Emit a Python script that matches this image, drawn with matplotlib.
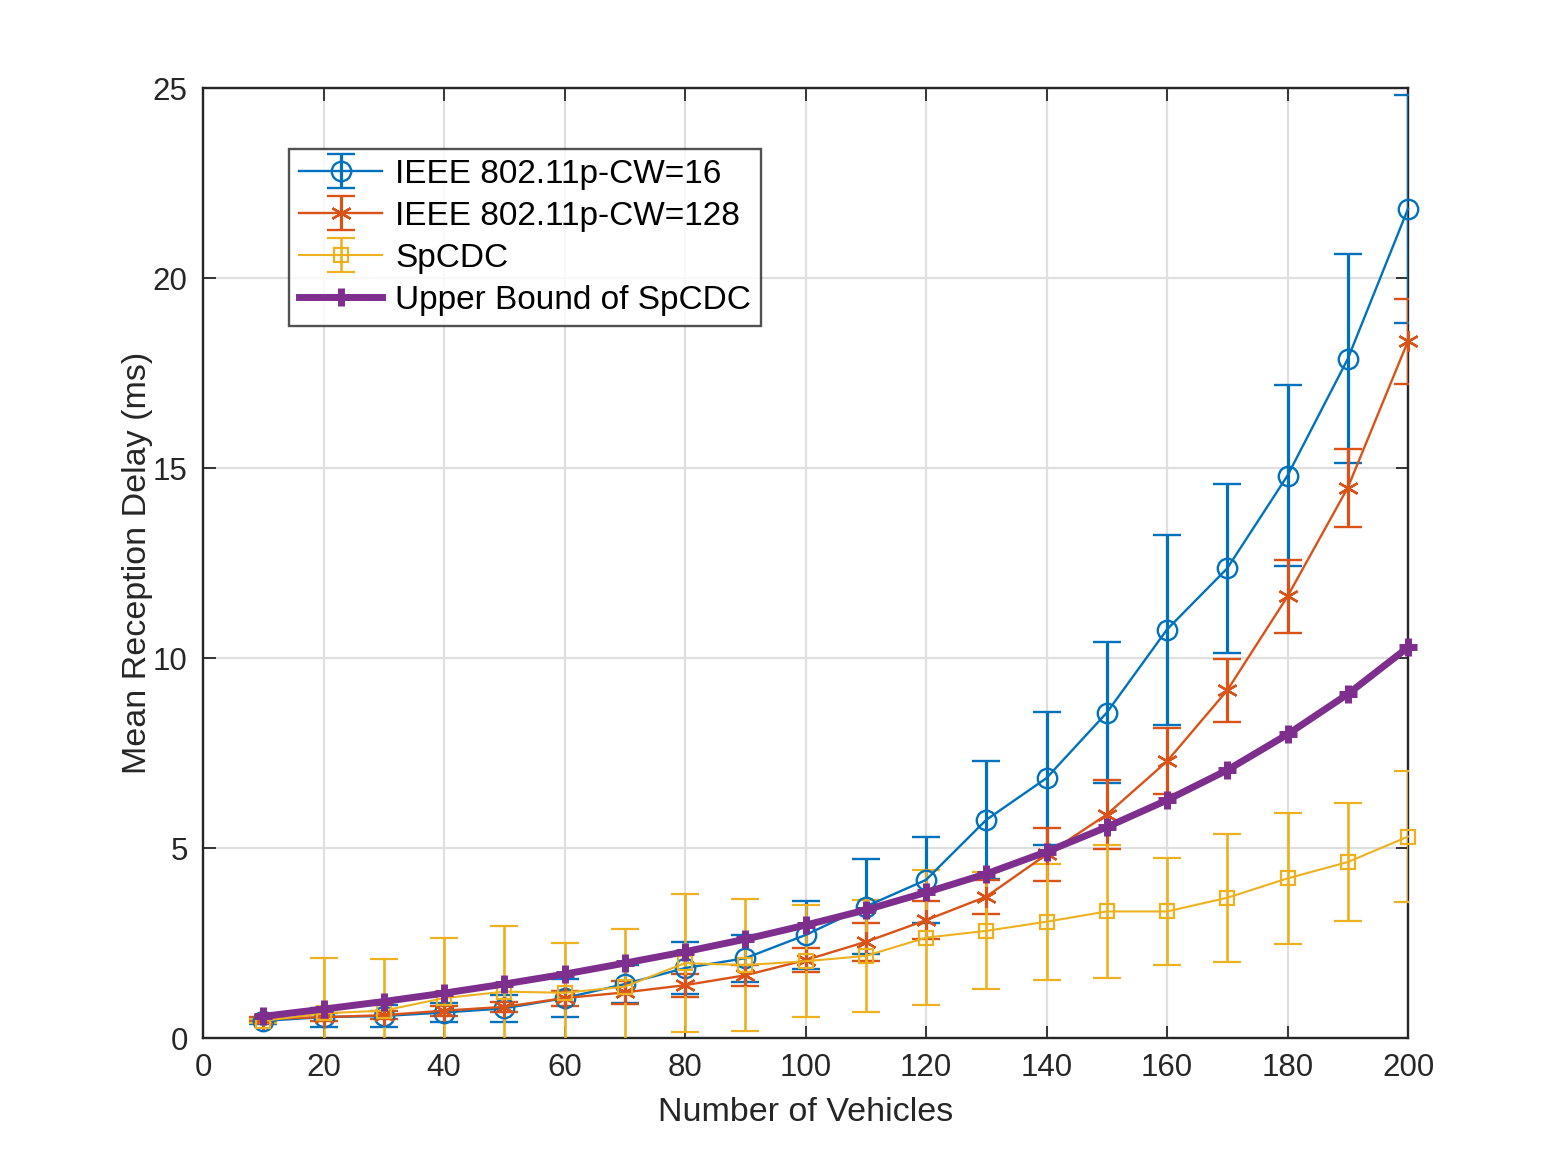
import numpy as np
import matplotlib
matplotlib.use('Agg')
import matplotlib.pyplot as plt

# Number of vehicles
vehicles = [10, 20, 30, 40, 50, 60, 70, 80, 90, 100,
            110, 120, 130, 140, 150, 160, 170, 180, 190, 200]

# IEEE 802.11p, CW=16
cw16_mean = [0.45, 0.55, 0.58, 0.67, 0.78, 1.05, 1.42, 1.84, 2.1, 2.71,
             3.46, 4.16, 5.74, 6.84, 8.56, 10.75, 12.36, 14.8, 17.87, 21.82]
cw16_err = [0.08, 0.25, 0.3, 0.26, 0.35, 0.5, 0.5, 0.68, 0.62, 0.9,
            1.25, 1.13, 1.56, 1.75, 1.85, 2.5, 2.22, 2.38, 2.75, 3.0]

# IEEE 802.11p, CW=128
cw128_mean = [0.5, 0.55, 0.6, 0.72, 0.82, 1.05, 1.2, 1.39, 1.65, 2.05,
              2.53, 3.1, 3.72, 4.83, 5.88, 7.28, 9.15, 11.62, 14.48, 18.34]
cw128_err = [0.05, 0.1, 0.1, 0.13, 0.14, 0.2, 0.3, 0.3, 0.27, 0.32,
             0.5, 0.5, 0.45, 0.7, 0.9, 0.87, 0.83, 0.96, 1.03, 1.12]

# SpCDC
spcdc_mean = [0.45, 0.65, 0.72, 1.05, 1.22, 1.19, 1.35, 1.97, 1.92, 2.02,
              2.16, 2.64, 2.82, 3.06, 3.33, 3.33, 3.69, 4.2, 4.63, 5.3]
spcdc_err = [0.05, 1.45, 1.37, 1.57, 1.73, 1.32, 1.52, 1.82, 1.74, 1.47,
             1.47, 1.77, 1.54, 1.53, 1.75, 1.4, 1.68, 1.73, 1.56, 1.73]

# Upper bound of SpCDC
upper_bound = [0.57, 0.76, 0.96, 1.18, 1.42, 1.68, 1.97, 2.27, 2.6, 2.97,
               3.37, 3.83, 4.32, 4.9, 5.55, 6.26, 7.05, 7.99, 9.05, 10.28]

labels = ['IEEE 802.11p-CW=16', 'IEEE 802.11p-CW=128', 'SpCDC',
          'Upper Bound of SpCDC']

plt.rcParams['font.family'] = ['Liberation Sans', 'DejaVu Sans']

fig = plt.figure(figsize=(15.56, 11.67), dpi=100, facecolor='white')
ax = fig.add_axes([203/1556, 1 - 1038/1167, 1205/1556, 950/1167])

# MATLAB style asterisk (six arms)
asterisk = (6, 2, 0)

h1 = ax.errorbar(vehicles, cw16_mean, yerr=cw16_err, color='#0072BD',
                 marker='o', markersize=14, markerfacecolor='none',
                 markeredgewidth=1.7, linewidth=1.7, elinewidth=2.3,
                 capsize=10, capthick=2.3, label=labels[0], zorder=3)
h2 = ax.errorbar(vehicles, cw128_mean, yerr=cw128_err, color='#D95319',
                 marker=asterisk, markersize=15, markeredgewidth=1.7,
                 linewidth=1.7, elinewidth=2.3, capsize=10, capthick=2.3,
                 label=labels[1], zorder=3)
h3 = ax.errorbar(vehicles, spcdc_mean, yerr=spcdc_err, color='#EDB120',
                 marker='s', markersize=10, markerfacecolor='none',
                 markeredgewidth=1.6, linewidth=1.5, elinewidth=1.9,
                 capsize=10, capthick=1.9, label=labels[2], zorder=3)
h4, = ax.plot(vehicles, upper_bound, color='#7E2F8E', linewidth=5,
              marker='+', markersize=13, markeredgewidth=5,
              label=labels[3], zorder=4)
for h in (h1, h2, h3):
    h[0].set_clip_on(False)
h4.set_clip_on(False)

ax.set_xlim(0, 200)
ax.set_ylim(0, 25)
ax.set_xticks(np.arange(0, 201, 20))
ax.set_yticks(np.arange(0, 26, 5))
ax.tick_params(direction='in', top=True, right=True, length=9,
               width=1.3, labelsize=22.5, colors='#262626', pad=11)
for sp in ax.spines.values():
    sp.set_linewidth(1.7)
    sp.set_color('#262626')
ax.grid(True, color='#DFDFDF', linewidth=1.6)
ax.set_axisbelow(True)

ax.set_xlabel('Number of Vehicles', fontsize=24.5, color='#262626',
              labelpad=10)
ax.set_ylabel('Mean Reception Delay (ms)', fontsize=24.5, color='#262626',
              labelpad=0)

leg = ax.legend([h1, h2, h3, h4], labels, loc='upper left',
                bbox_to_anchor=(0.0714, 0.936), borderaxespad=0,
                fontsize=24, frameon=True, fancybox=False,
                edgecolor='#262626', handlelength=2.5, handletextpad=0.38,
                labelspacing=0.33, borderpad=0.3)
leg.get_frame().set_linewidth(1.7)

fig.savefig('out.png', dpi=100)
